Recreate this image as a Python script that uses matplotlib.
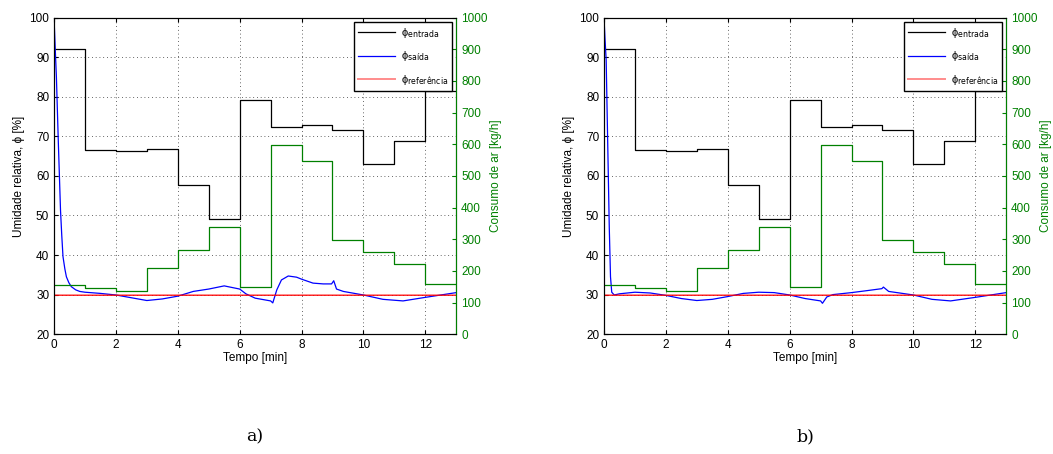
import numpy as np
import matplotlib
matplotlib.use('Agg')
import matplotlib.pyplot as plt

plt.rcParams['font.family'] = ['Liberation Sans', 'DejaVu Sans']
plt.rcParams['mathtext.fontset'] = 'dejavusans'

# Degraus de 1 min (0..12) -- umidade de entrada [%] e consumo de ar [kg/h]
t_degraus = [0, 1, 2, 3, 4, 5, 6, 7, 8, 9, 10, 11, 12]
phi_entrada = [92.1, 66.5, 66.4, 66.8, 57.7, 49.0, 79.3, 72.3, 73.0, 71.6, 62.9, 68.9, 81.4]
consumo_ar = [155, 146, 137, 210, 267, 340, 150, 598, 547, 299, 261, 221, 157]

phi_ref = 30.0

# Umidade de saída -- caso a)
t_saida_a = [0, 0.04, 0.077, 0.14, 0.21, 0.25, 0.29, 0.35, 0.4, 0.48, 0.56, 0.7, 0.83, 1.0, 1.5, 2.0,
             2.5, 3.0, 3.5, 4.0, 4.5, 5.0, 5.5, 6.0, 6.2, 6.5, 7.0, 7.07, 7.2, 7.35, 7.57,
             7.84, 8.0, 8.37, 8.7, 8.97, 9.04, 9.13, 9.35, 10.0, 10.63, 11.28, 12.0, 13.0]
phi_saida_a = [100, 92, 85, 68.3, 51.3, 45, 39.6, 36.5, 34.5, 33.0, 32.0, 31.2, 30.8, 30.6, 30.3, 29.9,
               29.2, 28.5, 28.9, 29.6, 30.8, 31.4, 32.2, 31.4, 30.2, 29.1, 28.4, 27.9, 31.2, 33.7, 34.7,
               34.4, 33.9, 32.9, 32.7, 32.7, 33.5, 31.4, 30.8, 29.9, 28.8, 28.4, 29.3, 30.5]

# Umidade de saída -- caso b)
t_saida_b = [0, 0.03, 0.07, 0.12, 0.17, 0.21, 0.25, 0.33, 0.5, 1.0, 1.5, 2.0, 2.5, 3.0, 3.5, 4.0,
             4.5, 5.0, 5.5, 6.0, 6.5, 7.0, 7.06, 7.2, 7.4, 8.0, 8.5, 8.98, 9.03, 9.2, 10.0,
             10.6, 11.2, 12.0, 13.0]
phi_saida_b = [100, 95, 89.3, 68.3, 47.1, 34.5, 30.6, 29.9, 30.2, 30.6, 30.4, 29.8, 29.0, 28.5, 28.8, 29.5,
               30.3, 30.6, 30.5, 29.9, 29.0, 28.4, 27.8, 29.4, 30.0, 30.5, 31.0, 31.5, 31.9, 30.8, 29.9,
               28.8, 28.4, 29.3, 30.5]

casos = [('a)', t_saida_a, phi_saida_a), ('b)', t_saida_b, phi_saida_b)]

verde = '#008000'
fs = 8.5

fig = plt.figure(figsize=(10.53, 4.54), dpi=100)
lefts = [0.0513, 0.5736]

t_step = t_degraus + [13]
ent_step = phi_entrada + [phi_entrada[-1]]
ar_step = consumo_ar + [consumo_ar[-1]]

for (rotulo, t_s, phi_s), left in zip(casos, lefts):
    ax = fig.add_axes([left, 0.264, 0.382, 0.697])
    ax2 = ax.twinx()

    l1, = ax.step(t_step, ent_step, where='post', color='black', lw=0.9)
    l2, = ax.plot(t_s, phi_s, color='blue', lw=0.9)
    l3, = ax.plot([0, 13], [phi_ref, phi_ref], color='red', lw=1.4, alpha=0.45)
    ax.plot([0, 13], [phi_ref, phi_ref], color='red', lw=0.5)
    ax2.step(t_step, ar_step, where='post', color=verde, lw=0.9)

    ax.set_xlim(0, 13)
    ax.set_ylim(20, 100)
    ax.set_xticks(np.arange(0, 13, 2))
    ax.set_yticks(np.arange(20, 101, 10))
    ax.grid(True, linestyle=(0, (1, 3.5)), color='#333333', lw=0.6)
    ax.tick_params(direction='in', labelsize=fs, length=3, top=True)
    ax.set_xlabel('Tempo [min]', fontsize=fs, labelpad=1)
    ax.set_ylabel('Umidade relativa, ϕ [%]', fontsize=fs, labelpad=3)

    ax2.set_ylim(0, 1000)
    ax2.set_yticks(np.arange(0, 1001, 100))
    ax2.tick_params(direction='in', labelsize=fs, length=3, colors=verde)
    ax2.spines['right'].set_color(verde)
    ax2.set_ylabel('Consumo de ar [kg/h]', fontsize=fs, color=verde, labelpad=2)

    leg = ax2.legend([l1, l2, l3],
                     [r'ϕ$_{\mathrm{entrada}}$', r'ϕ$_{\mathrm{saída}}$',
                      r'ϕ$_{\mathrm{referência}}$'],
                     loc='upper right', fontsize=8, fancybox=False, framealpha=1,
                     edgecolor='black', handlelength=3.3, handletextpad=0.5,
                     borderaxespad=0.35, labelspacing=0.85, borderpad=0.4)
    leg.get_frame().set_linewidth(1.0)

    fig.text(left + 0.191, 0.037, rotulo, ha='center', va='center', fontsize=12.5,
             family='DejaVu Serif')

fig.savefig('out.png', dpi=100)
